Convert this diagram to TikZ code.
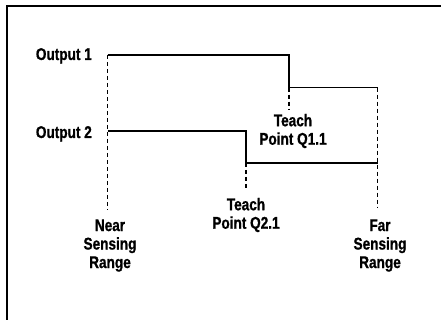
\documentclass[tikz,border=0pt]{standalone}
\usepackage{fontspec}
\setmainfont[FakeStretch=0.8, BoldFeatures={FakeBold=0.8}]{Liberation Sans}
\begin{document}
\begin{tikzpicture}[x=1pt,y=-1pt,
  lbl/.style={font=\fontsize{17}{18.5}\selectfont\bfseries, inner sep=0pt, align=center},
  sig/.style={line width=1.4pt},
  guide/.style={line width=1.3pt, dash pattern=on 4pt off 3pt},
  frame/.style={line width=2.8pt}]
\useasboundingbox (0,0) rectangle (441,320);
% frame (top and left visible)
\coordinate (fbl) at (7,321);
\coordinate (ftl) at (7,6);
\coordinate (ftr) at (442,6);
\draw[frame] (fbl) -- (ftl) -- (ftr);
% corner coordinates
\coordinate (n1) at (107.5,55);
\coordinate (a1) at (289,55);
\coordinate (a2) at (289,87.7);
\coordinate (f1) at (377.7,87.7);
\coordinate (n2) at (107.5,131);
\coordinate (b1) at (246,131);
\coordinate (b2) at (246,163);
\coordinate (f2) at (377.7,163);
\coordinate (nb) at (107.5,210);
\coordinate (fb) at (377.7,207);
\coordinate (ta) at (289,109);
\coordinate (tb) at (246,189);
% signal lines
\draw[sig] (n1) -- (a1) -- (a2) -- (f1);
\draw[sig] (n2) -- (b1) -- (b2) -- (f2);
% guide lines
\draw[guide] (n1) -- (nb);
\draw[guide] (f1) -- (fb);
\draw[guide] (a2) -- (ta);
\draw[guide] (b2) -- (tb);
% labels
\node[lbl, anchor=base east] (o1) at (92,60) {Output 1};
\node[lbl, anchor=base east] (o2) at (92,138) {Output 2};
\node[lbl] (tq1) at (293,131) {Teach\\Point Q1.1};
\node[lbl] (tq2) at (246,215) {Teach\\Point Q2.1};
\node[lbl] (near) at (110,245.5) {Near\\Sensing\\Range};
\node[lbl] (far) at (380,245.5) {Far\\Sensing\\Range};
\end{tikzpicture}
\end{document}
